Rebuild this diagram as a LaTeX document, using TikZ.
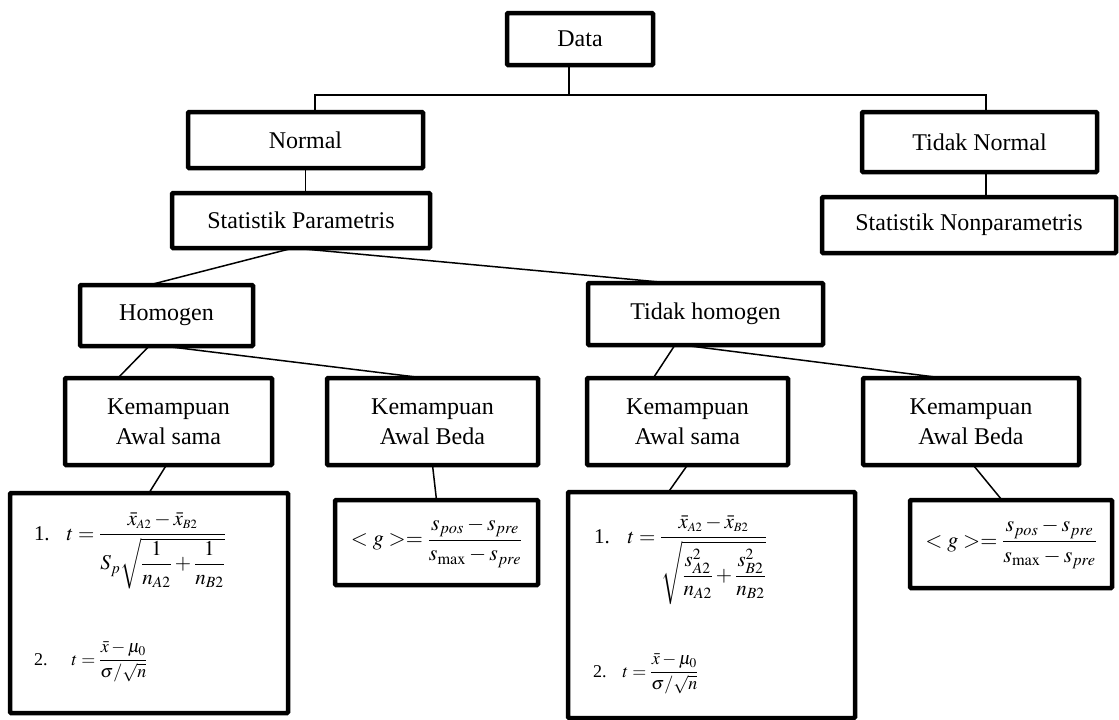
\documentclass[tikz,border=0pt]{standalone}
\usepackage{mathptmx}
\usepackage{amsmath}
\usepackage[no-math]{fontspec}
\setmainfont{Liberation Serif}
\usetikzlibrary{calc}
\tikzset{
  box/.style={draw, line width=4.5pt, rounded corners=1pt, inner sep=0pt, outer sep=0pt,
    font=\fontsize{24}{30}\selectfont, align=center},
  conn/.style={line width=1.5pt},
  fml/.style={anchor=base west, inner sep=0pt, outer sep=0pt}
}
\begin{document}
\begin{tikzpicture}[x=1pt,y=-1pt]
\useasboundingbox[fill=white] (0,0) rectangle (1119,720);
% top level
\node[box, minimum width=146pt, minimum height=52pt] (data) at (580,39) {Data};
\node[box, minimum width=235pt, minimum height=56pt] (normal) at (305.5,140) {Normal};
\node[box, minimum width=235pt, minimum height=60pt] (tnormal) at (979.5,142) {Tidak Normal};
\node[box, minimum width=258pt, minimum height=55pt] (stat) at (301,220.5) {Statistik Parametris};
\node[box, minimum width=294pt, minimum height=56pt] (snp) at (969,225) {Statistik Nonparametris};
\node[box, minimum width=173pt, minimum height=61pt] (hom) at (166.5,315.5) {Homogen};
\node[box, minimum width=235pt, minimum height=62pt] (thom) at (705.5,314) {Tidak homogen};
\node[box, minimum width=207pt, minimum height=87pt] (kas1) at (168.5,421.5) {Kemampuan\\Awal sama};
\node[box, minimum width=211pt, minimum height=87pt] (beda1) at (432.5,421.5) {Kemampuan\\Awal Beda};
\node[box, minimum width=201pt, minimum height=87pt] (kas2) at (687.5,421.5) {Kemampuan\\Awal sama};
\node[box, minimum width=216pt, minimum height=87pt] (beda2) at (971,421.5) {Kemampuan\\Awal Beda};
% formula boxes
\node[box, minimum width=278pt, minimum height=220pt] (f1) at (149,603) {};
\node[box, minimum width=203pt, minimum height=85pt] (f2) at (436.5,542.5)
  {\fontsize{22}{26}\selectfont$<g>=\dfrac{s_{pos}-s_{pre}}{s_{\max}-s_{pre}}$};
\node[box, minimum width=287pt, minimum height=226pt] (f3) at (711.5,605) {};
\node[box, minimum width=202pt, minimum height=88pt] (f4) at (1011,544)
  {\fontsize{22}{26}\selectfont$<g>=\dfrac{s_{pos}-s_{pre}}{s_{\max}-s_{pre}}$};
% formulas inside big boxes
\node[fml, font=\fontsize{21}{25}\selectfont] (f1a) at (34,540)
  {1.\hspace{17pt}$t=\dfrac{\bar{x}_{\scriptscriptstyle A2}-\bar{x}_{\scriptscriptstyle B2}}{S_p\sqrt{\dfrac{1}{n_{A2}}+\dfrac{1}{n_{B2}}}}$};
\node[fml, font=\fontsize{18}{22}\selectfont] (f1b) at (34,665)
  {2.\hspace{24pt}$t=\dfrac{\bar{x}-\mu_0}{\sigma/\sqrt{n}}$};
\node[fml, font=\fontsize{21}{25}\selectfont] (f3a) at (594,543)
  {1.\hspace{18pt}$t=\dfrac{\bar{x}_{\scriptscriptstyle A2}-\bar{x}_{\scriptscriptstyle B2}}{\sqrt{\dfrac{s_{A2}^2}{n_{A2}}+\dfrac{s_{B2}^2}{n_{B2}}}}$};
\node[fml, font=\fontsize{18}{22}\selectfont] (f3b) at (593,677)
  {2.\hspace{16pt}$t=\dfrac{\bar{x}-\mu_0}{\sigma/\sqrt{n}}$};
% connectors
\coordinate (j0) at (569,95);
\coordinate (jl) at (315,95);
\coordinate (jr) at (986,95);
\draw[conn] (data.south -| j0) -- (j0);
\draw[conn] (normal.north -| jl) -- (jl) -- (jr) -- (tnormal.north -| jr);
\draw[conn] (normal.south) -- (normal.south |- stat.north);
\draw[conn] (tnormal.south -| jr) -- (snp.north -| jr);
\draw[conn] ($(stat.south west)!0.47!(stat.south east)$) -- ($(hom.north west)!0.40!(hom.north east)$);
\draw[conn] ($(stat.south west)!0.47!(stat.south east)$) -- ($(thom.north west)!0.35!(thom.north east)$);
\draw[conn] ($(hom.south west)!0.40!(hom.south east)$) -- ($(kas1.north west)!0.256!(kas1.north east)$);
\draw[conn] ($(hom.south west)!0.48!(hom.south east)$) -- ($(beda1.north west)!0.46!(beda1.north east)$);
\draw[conn] ($(thom.south west)!0.37!(thom.south east)$) -- ($(kas2.north west)!0.33!(kas2.north east)$);
\draw[conn] ($(thom.south west)!0.40!(thom.south east)$) -- ($(beda2.north west)!0.37!(beda2.north east)$);
\draw[conn] ($(kas1.south west)!0.49!(kas1.south east)$) -- ($(f1.north west)!0.50!(f1.north east)$);
\draw[conn] ($(beda1.south west)!0.50!(beda1.south east)$) -- ($(f2.north west)!0.50!(f2.north east)$);
\draw[conn] ($(kas2.south west)!0.50!(kas2.south east)$) -- ($(f3.north west)!0.35!(f3.north east)$);
\draw[conn] ($(beda2.south west)!0.51!(beda2.south east)$) -- ($(f4.north west)!0.455!(f4.north east)$);
\end{tikzpicture}
\end{document}
